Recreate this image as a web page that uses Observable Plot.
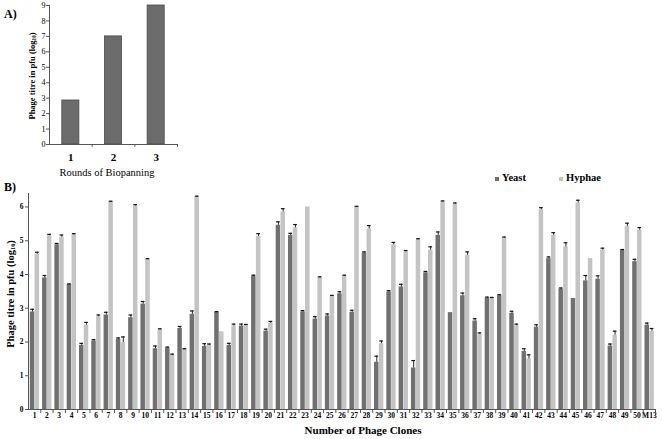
<!DOCTYPE html>
<html><head><meta charset="utf-8">
<script src="https://cdn.jsdelivr.net/npm/d3@7"></script>
<script src="https://cdn.jsdelivr.net/npm/@observablehq/plot@0.6"></script>
<style>
body{margin:0;background:#fff;}
#wrap{position:relative;width:662px;height:439px;font-family:"Liberation Serif","DejaVu Serif",serif;color:#000;overflow:hidden;background:#fff}
.abs{position:absolute;white-space:nowrap;line-height:1}
.rot{transform:translate(-50%,-50%) rotate(-90deg)}
.ctr{transform:translate(-50%,-50%)}
sub{font-size:60%;vertical-align:-0.25em;line-height:0}
#wrap svg{position:absolute;overflow:visible}
</style></head><body><div id="wrap"></div>
<script>
// ---- Panel A data ----
const rounds = ["1", "2", "3"];
const roundTitre = [2.85, 7.0, 9.0];
const yTicksA = [0, 1, 2, 3, 4, 5, 6, 7, 8, 9];

// ---- Panel B data ----
const clones = ["1","2","3","4","5","6","7","8","9","10","11","12","13","14","15","16","17","18","19","20",
  "21","22","23","24","25","26","27","28","29","30","31","32","33","34","35","36","37","38","39","40",
  "41","42","43","44","45","46","47","48","49","50","M13"];
const yeast = [2.89,3.9,4.88,3.7,1.9,2.03,2.8,2.08,2.72,3.12,1.8,1.82,2.4,2.82,1.87,2.88,1.9,2.47,3.95,2.32,
  5.46,5.16,2.89,2.68,2.77,3.43,2.88,4.64,1.4,3.48,3.63,1.23,4.05,5.16,2.87,3.37,2.62,3.3,3.37,2.85,
  1.72,2.44,4.47,3.56,3.29,3.81,3.86,1.88,4.71,4.38,2.5];
const yeastErr = [0.08,0.07,0.04,0.02,0.06,0.04,0.08,0.04,0.08,0.08,0.08,0.03,0.06,0.1,0.08,0.02,0.06,0.06,0.03,0.06,
  0.1,0.06,0.04,0.07,0.06,0.06,0.06,0.03,0.18,0.04,0.08,0.22,0.04,0.1,0,0.08,0.07,0.03,0.03,0.06,
  0.08,0.07,0.05,0.04,0,0.16,0.1,0.06,0.03,0.07,0.06];
const hyphae = [4.6,5.15,5.1,5.18,2.5,2.75,6.15,1.98,6.03,4.45,2.36,1.6,1.78,6.3,1.9,2.3,2.47,2.5,5.13,2.55,
  5.85,5.38,6.0,3.9,3.35,3.95,6.0,5.35,1.95,4.88,4.67,5.03,4.72,6.15,6.08,4.57,2.22,3.3,5.08,2.48,
  1.5,5.92,5.16,4.82,6.12,4.47,4.72,2.2,5.42,5.31,2.32];
const hyphaeErr = [0.06,0.04,0.07,0.03,0.08,0.05,0.02,0.17,0.04,0.02,0.03,0.04,0.02,0.02,0.04,0,0.06,0.02,0.08,0.06,
  0.1,0.1,0,0.03,0.03,0.03,0.02,0.1,0.08,0.07,0.04,0.03,0.1,0.03,0.04,0.1,0.05,0.02,0.03,0.05,
  0.12,0.06,0.08,0.12,0.08,0,0.06,0.12,0.1,0.08,0.08];
const yTicksB = [0, 1, 2, 3, 4, 5, 6];
const seriesNames = ["Yeast", "Hyphae"];
const seriesColors = ["#707070", "#c4c4c4"];

const FONT = '"Liberation Serif", "DejaVu Serif", serif';
const wrap = document.getElementById("wrap");
function addText(html, style, cls) {
  const d = document.createElement("div");
  d.className = "abs " + (cls || "");
  d.innerHTML = html;
  Object.assign(d.style, style);
  wrap.appendChild(d);
  return d;
}

// ---- Panel A ----
const dataA = rounds.map((r, i) => ({round: r, titre: roundTitre[i]}));
const plotA = Plot.plot({
  width: 240, height: 180,
  marginLeft: 49, marginRight: 63, marginTop: 5, marginBottom: 36,
  style: {fontFamily: FONT, background: "transparent", color: "#000"},
  x: {domain: rounds, paddingInner: 0.6, paddingOuter: 0.3, round: false, label: null},
  y: {domain: [0, 9], label: null},
  marks: [
    Plot.barY(dataA, {x: "round", y: "titre", fill: "#6c6c6c", stroke: "#4a4a4a", strokeWidth: 0.8}),
    Plot.ruleY([0], {stroke: "#555"}),
    Plot.frame({anchor: "left", stroke: "#555"}),
    Plot.axisY({ticks: yTicksA, tickFormat: "d", tickSize: 3, tickPadding: 1, fontSize: 8, label: null, stroke: "#555"}),
    Plot.axisX({tickSize: 0, tickPadding: 9, fontSize: 11, fontWeight: "bold", label: null}),
    Plot.ruleX(rounds, {x: d => d, dx: 128 / 3 / 2, y1: 0, y2: -0.18, stroke: "#555"})
  ]
});
plotA.style.left = "0px"; plotA.style.top = "0px";
wrap.appendChild(plotA);

addText("A)", {left: "4px", top: "8px", fontSize: "12px", fontWeight: "bold"});
addText("Phage titre in pfu (log<sub>10</sub>)", {left: "32px", top: "76px", fontSize: "8.5px", fontWeight: "bold"}, "rot");
addText("Rounds of Biopanning", {left: "107px", top: "173px", fontSize: "10.5px"}, "ctr");

// ---- Panel B ----
const dataB = clones.map((c, i) => ({clone: c, yeast: yeast[i], yeastErr: yeastErr[i], hyphae: hyphae[i], hyphaeErr: hyphaeErr[i]}));
const mlB = 28, mrB = 7, wB = 662;
const step = (wB - mlB - mrB) / clones.length;
const plotB = Plot.plot({
  width: wB, height: 254,
  marginLeft: mlB, marginRight: mrB, marginTop: 8, marginBottom: 30,
  style: {fontFamily: FONT, background: "transparent", color: "#000"},
  x: {domain: clones, padding: 0, round: false, label: null},
  y: {domain: [0, 6.4], label: null},
  marks: [
    Plot.barY(dataB, {x: "clone", y: "yeast", fill: seriesColors[0], insetLeft: 1.8, insetRight: 6.0}),
    Plot.barY(dataB, {x: "clone", y: "hyphae", fill: seriesColors[1], insetLeft: 6.6, insetRight: 1.2}),
    Plot.ruleX(dataB.filter(d => d.yeastErr > 0), {x: "clone", y1: "yeast", y2: d => d.yeast + d.yeastErr, dx: -2.1, stroke: "#111", strokeWidth: 0.9}),
    Plot.tickY(dataB.filter(d => d.yeastErr > 0), {x: "clone", y: d => d.yeast + d.yeastErr, insetLeft: 2.2, insetRight: 6.4, stroke: "#111", strokeWidth: 1.2}),
    Plot.ruleX(dataB.filter(d => d.hyphaeErr > 0), {x: "clone", y1: "hyphae", y2: d => d.hyphae + d.hyphaeErr, dx: 2.6, stroke: "#111", strokeWidth: 0.9}),
    Plot.tickY(dataB.filter(d => d.hyphaeErr > 0), {x: "clone", y: d => d.hyphae + d.hyphaeErr, insetLeft: 7.0, insetRight: 1.6, stroke: "#111", strokeWidth: 1.2}),
    Plot.ruleY([0], {stroke: "#555"}),
    Plot.frame({anchor: "left", stroke: "#555"}),
    Plot.axisY({ticks: yTicksB, tickFormat: "d", tickSize: 3, tickPadding: 2, fontSize: 7.5, fontWeight: "bold", label: null, stroke: "#555"}),
    Plot.axisX({tickSize: 0, tickPadding: 3, fontSize: 7.5, fontWeight: "bold", label: null}),
    Plot.ruleX(clones, {x: d => d, dx: step / 2, y1: 0, y2: -0.12, stroke: "#555"})
  ]
});
plotB.style.left = "0px"; plotB.style.top = "185px";
wrap.appendChild(plotB);

addText("B)", {left: "4px", top: "181px", fontSize: "12px", fontWeight: "bold"});
addText("Phage titre in pfu (log<sub>10</sub>)", {left: "11px", top: "294px", fontSize: "10.5px", fontWeight: "bold"}, "rot");
addText("Number of Phage Clones", {left: "363px", top: "430px", fontSize: "11px", fontWeight: "bold"}, "ctr");

// legend
const legX = [495, 559];
seriesNames.forEach((n, i) => {
  const sw = document.createElement("div");
  sw.className = "abs";
  Object.assign(sw.style, {left: legX[i] + "px", top: "177px", width: "4px", height: "4px", background: seriesColors[i]});
  wrap.appendChild(sw);
  addText(n, {left: (legX[i] + 7) + "px", top: "173px", fontSize: "10.5px", fontWeight: "bold"});
});
</script></body></html>
